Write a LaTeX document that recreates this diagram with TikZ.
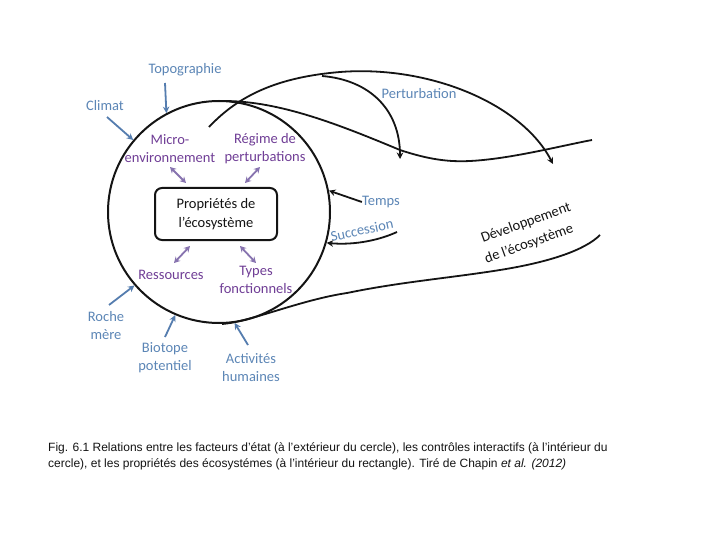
\documentclass[tikz,border=0pt]{standalone}
\usepackage{fontspec}
\setmainfont{Carlito}
\newfontfamily\capfont{Liberation Sans}
\usetikzlibrary{arrows.meta}
\definecolor{lblue}{RGB}{92,134,182}
\definecolor{ablue}{RGB}{85,125,175}
\definecolor{lpurp}{RGB}{112,62,150}
\definecolor{apurp}{RGB}{135,115,175}
\definecolor{ink}{RGB}{20,20,20}
\tikzset{
  lab/.style={font=\fontsize{14.5}{18}\selectfont, align=center, inner sep=0pt},
  factor/.style={lab, text=lblue},
  ctrl/.style={lab, text=lpurp},
  barrow/.style={ablue, line width=1.8pt, -{Stealth[length=6.5pt,width=6.5pt]}},
  parrow/.style={apurp, line width=1.8pt, {Stealth[length=6pt,width=6.5pt]}-{Stealth[length=6pt,width=6.5pt]}},
  karrow/.style={ink, line width=1.8pt, -{Stealth[length=6.5pt,width=6.5pt]}},
  curve/.style={ink, line width=1.8pt},
}
\begin{document}
\begin{tikzpicture}[x=1pt,y=-1pt]
\useasboundingbox (0,0) rectangle (720,540);
\fill[white] (0,0) rectangle (720,540);

% circle and rectangle
\node[circle, draw=ink, line width=2pt, minimum size=222pt, inner sep=0pt] (circ) at (219,212) {};
\node[draw=ink, line width=2pt, rounded corners=7pt, minimum width=122pt, minimum height=52pt,
      font=\fontsize{14.5}{19}\selectfont, align=center, text=ink] (box) at (216,214) {Propriétés de\\l’écosystème};

% curve coordinates
\coordinate (a0) at (224,101);
\coordinate (a1) at (400,150);
\coordinate (a2) at (470,161);
\coordinate (a3) at (592,140);
\coordinate (b0) at (209,127);
\coordinate (b1) at (340,72);
\coordinate (b2) at (553,164);
\coordinate (c0) at (322,76);
\coordinate (c1) at (400,159);
\coordinate (d0) at (222,324);
\coordinate (d1) at (347,293);
\coordinate (d2) at (500,270);
\coordinate (d3) at (600,235);

% upper wavy line
\draw[curve] (a0) .. controls (280,101) and (340,125) .. (a1)
  .. controls (430,160) and (450,162) .. (a2)
  .. controls (510,159) and (560,146) .. (a3);
% lower line
\draw[curve] (d0) .. controls (250,322) and (300,300) .. (d1)
  .. controls (400,282) and (450,278) .. (d2)
  .. controls (550,262) and (585,250) .. (d3);
% perturbation arrows
\draw[karrow] (b0) .. controls (240,94) and (280,77) .. (b1)
  .. controls (430,65) and (522,104) .. (b2);
\draw[karrow] (c0) .. controls (370,80) and (400,110) .. (c1);

% labels outside
\node[factor] (topo) at (185,70) {Topographie};
\node[factor] (clim) at (105,106) {Climat};
\node[factor] (roche) at (106,326) {Roche\\mère};
\node[factor] (bio) at (165,358) {Biotope\\potentiel};
\node[factor] (act) at (251,368) {Activités\\humaines};
\node[factor] (temps) at (381,202) {Temps};
\node[factor, rotate=12] (succ) at (362,230) {Succession};
\node[factor] (pert) at (419,94) {Perturbation};
\node[lab, text=ink, rotate=20] (dev1) at (526,223) {Développement};
\node[lab, text=ink, rotate=20] (dev2) at (529,244) {de l’écosystème};

% labels inside
\node[ctrl] (micro) at (170,149) {Micro-\\environnement};
\node[ctrl] (regime) at (265,149) {Régime de\\perturbations};
\node[ctrl] (ress) at (171,275) {Ressources};
\node[ctrl] (types) at (256,280) {Types\\fonctionnels};

% factor arrows
\coordinate (topoS) at (165,83);
\coordinate (climS) at (107,117);
\coordinate (rocheS) at (109,305);
\coordinate (bioS) at (165,337);
\coordinate (actS) at (248,345);
\coordinate (succS) at (397,232);
\draw[barrow] (topoS) -- (circ.118);
\draw[barrow] (climS) -- (circ.140);
\draw[barrow] (rocheS) -- (circ.221);
\draw[barrow] (bioS) -- (circ.247);
\draw[barrow] (actS) -- (circ.278);
\draw[karrow] (temps.west) -- (circ.11);
\draw[karrow] (succS) .. controls (375,242) and (350,245) .. (circ.344);

% control arrows
\coordinate (m1) at (170,167); \coordinate (m2) at (186,183);
\coordinate (r1) at (260,167); \coordinate (r2) at (245,183);
\coordinate (s1) at (190,246); \coordinate (s2) at (174,263);
\coordinate (t1) at (240,246); \coordinate (t2) at (256,263);
\draw[parrow] (m1) -- (m2);
\draw[parrow] (r1) -- (r2);
\draw[parrow] (s1) -- (s2);
\draw[parrow] (t1) -- (t2);

% caption
\node[anchor=base west, align=left, inner sep=0pt, font=\capfont\fontsize{12}{16}\selectfont, text=ink] (cap) at (48,467)
 {Fig. 6.1 Relations entre les facteurs d’état (à l’extérieur du cercle), les contrôles interactifs (à l’intérieur du\\
  cercle), et les propriétés des écosystémes (à l’intérieur du rectangle). Tiré de Chapin \textit{et al. (2012)}};
\end{tikzpicture}
\end{document}
